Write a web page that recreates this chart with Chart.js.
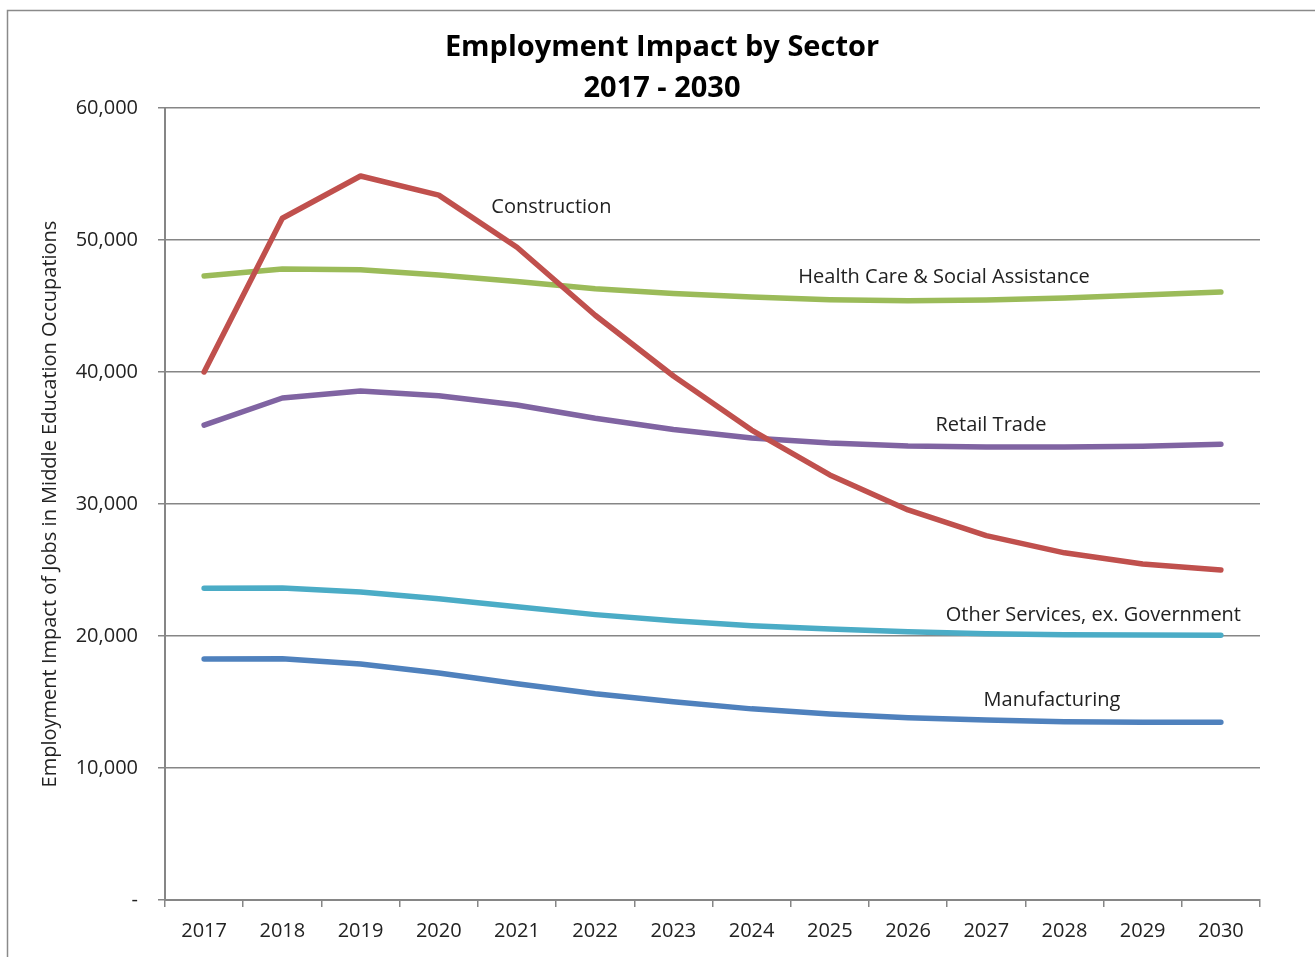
<!DOCTYPE html>
<html>
<head>
<meta charset="utf-8">
<script src="https://cdn.jsdelivr.net/npm/chart.js@4"></script>
<style>
html,body{margin:0;padding:0;background:#fff;}
#wrap{width:1315px;height:957px;}
</style>
</head>
<body>
<div id="wrap"><canvas id="chartSectors" width="1315" height="957"></canvas></div>
<script>
/* données */

const years = ["2017","2018","2019","2020","2021","2022","2023","2024","2025","2026","2027","2028","2029","2030"];

const construction = [40000,51650,54850,53400,49450,44300,39700,35600,32200,29550,27600,26300,25450,25000];
const healthCare   = [47270,47800,47750,47350,46850,46300,45950,45680,45480,45400,45450,45600,45830,46060];
const retailTrade  = [35980,38030,38560,38200,37500,36500,35650,35000,34620,34400,34320,34320,34380,34530];
const otherServ    = [23620,23640,23330,22820,22220,21620,21150,20780,20530,20320,20170,20090,20070,20060];
const manufacturing= [18260,18280,17880,17200,16380,15620,15020,14480,14090,13800,13630,13500,13460,13460];

const seriesNames = ["Construction","Health Care & Social Assistance","Retail Trade","Other Services, ex. Government","Manufacturing"];
const seriesColors = ["#C0504D","#9BBB59","#8064A2","#4BACC6","#4F81BD"];

/* étiquettes posées sur les courbes (index catégorie, valeur) */
const labelSpots = [
  {text:seriesNames[0], i:4.44, v:52450},
  {text:seriesNames[1], i:9.46, v:47150},
  {text:seriesNames[2], i:10.06, v:35950},
  {text:seriesNames[3], i:11.37, v:21600},
  {text:seriesNames[4], i:10.84, v:15100}
];

const FONT = "'Open Sans', sans-serif";
const GRID = "#868686";

let datasets = [construction,healthCare,retailTrade,otherServ,manufacturing].map((d,i)=>({
  label:seriesNames[i],
  data:d,
  borderColor:seriesColors[i],
  backgroundColor:seriesColors[i],
  borderWidth:5.5,
  pointRadius:0,
  tension:0,
  borderCapStyle:"round",
  borderJoinStyle:"round",
  fill:false,
  order:i
}));

const decor = {
  id:"decor",
  beforeDraw(chart){
    const c = chart.ctx;
    c.save();
    c.fillStyle="#fff";
    c.fillRect(0,0,chart.width,chart.height);
    c.strokeStyle="#8a8a8a";
    c.lineWidth=1.5;
    c.strokeRect(7.5,10.5,chart.width+20,chart.height+20);
    c.restore();
  },
  afterDraw(chart){
    const c = chart.ctx;
    const xs = chart.scales.x, ys = chart.scales.y;
    c.save();
    c.fillStyle="#000";
    c.textAlign="center";
    c.textBaseline="middle";
    c.font="bold 29px "+FONT;
    c.fillText("Employment Impact by Sector",662,48);
    c.fillText("2017 - 2030",662,89);

    c.fillStyle="#222";
    c.font="20px "+FONT;
    labelSpots.forEach(l=>{
      const x = xs.getPixelForValue(0) + l.i*(xs.getPixelForValue(1)-xs.getPixelForValue(0));
      const y = ys.getPixelForValue(l.v);
      c.fillText(l.text,x,y);
    });

    c.translate(50,(chart.chartArea.top+chart.chartArea.bottom)/2);
    c.rotate(-Math.PI/2);
    c.font="20px "+FONT;
    c.fillText("Employment Impact of Jobs in Middle Education Occupations",0,0);
    c.restore();
  }
};

new Chart(document.getElementById("chartSectors"),{
  type:"line",
  data:{labels:years,datasets},
  plugins:[decor],
  options:{
    responsive:false,
    animation:false,
    layout:{padding:{top:108,right:55,left:0,bottom:0}},
    plugins:{legend:{display:false},title:{display:false},tooltip:{enabled:false}},
    scales:{
      x:{
        offset:true,
        grid:{offset:true,drawOnChartArea:false,color:GRID,tickLength:7,lineWidth:1.5},
        border:{color:GRID,width:2},
        ticks:{color:"#222",font:{family:FONT,size:20},padding:12,maxRotation:0},
        afterFit(s){ s.height = 57; }
      },
      y:{
        min:0,max:60000,
        grid:{color:GRID,tickLength:7,lineWidth:1.5},
        border:{color:GRID,width:2},
        ticks:{
          stepSize:10000,
          color:"#222",
          font:{family:FONT,size:20},
          padding:20,
          callback:v=> v===0 ? "-" : v.toLocaleString("en-US")
        },
        afterFit(s){ s.width = 165; }
      }
    }
  }
});
</script>
</body>
</html>
